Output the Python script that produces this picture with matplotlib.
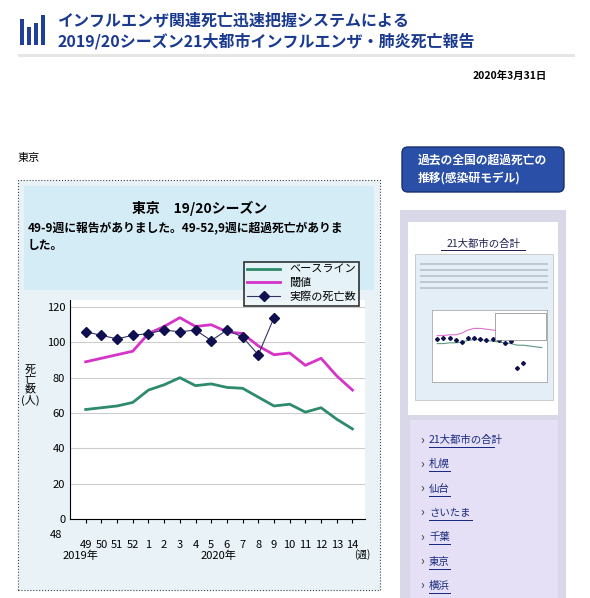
import matplotlib.pyplot as plt
from matplotlib.patches import Rectangle, FancyBboxPatch
import numpy as np

plt.rcParams['font.family'] = ['Noto Sans CJK JP', 'DejaVu Sans']

W, H = 590, 598

# data
week_labels = ['49', '50', '51', '52', '1', '2', '3', '4', '5', '6', '7', '8', '9',
               '10', '11', '12', '13', '14']
baseline = [62, 63, 64, 66, 73, 76, 80, 75.5, 76.5, 74.5, 74, 69, 64, 65, 60.5, 63, 56.5, 51]
threshold = [89, 91, 93, 95, 105, 109, 114, 109, 110, 106, 105, 98, 93, 94, 87, 91, 81, 73]
observed = [106, 104, 102, 104, 105, 107, 106, 107, 101, 107, 103, 93, 114]

# thumbnail (21 cities total), rough relative values
thumb_base = [48, 48, 49, 49, 50, 52, 53, 53, 52, 51, 50, 49, 48, 46, 46, 45, 44, 43]
thumb_thr = [58, 58, 59, 59, 61, 65, 67, 67, 66, 65, 64, 62, 60, 57, 56, 56, 55, 54]
thumb_obs = [54, 55, 55, 53, 50, 55, 55, 54, 52, 54, 52, 49, 51, 18, 24]

sidebar_links = ['21大都市の合計', '札幌', '仙台', 'さいたま', '千葉', '東京', '横浜']

fig = plt.figure(figsize=(W / 100, H / 100), dpi=100)
fig.patch.set_facecolor('white')


def fx(x):
    return x / W


def fy(y):
    return 1 - y / H


def box(x0, y0, x1, y1, z=-5, **kw):
    fig.add_artist(Rectangle((fx(x0), fy(y1)), fx(x1 - x0), (y1 - y0) / H,
                             transform=fig.transFigure, zorder=z, **kw))


# header
for x, h in [(20, 26), (27, 18), (34, 22), (41, 30)]:
    box(x, 45 - h, x + 4, 45, color='#1f3f99', lw=0)
fig.text(fx(58), fy(20), 'インフルエンザ関連死亡迅速把握システムによる', color='#1a3a8f',
         fontsize=11.5, fontweight='bold', va='center')
fig.text(fx(58), fy(41), '2019/20シーズン21大都市インフルエンザ・肺炎死亡報告', color='#1a3a8f',
         fontsize=11.5, fontweight='bold', va='center')
box(18, 54, 575, 57, color='#e6e6e6', lw=0)
fig.text(fx(547), fy(76), '2020年3月31日', fontsize=7.5, fontweight='bold', ha='right', va='center')
fig.text(fx(18), fy(158), '東京', fontsize=8, va='center')

# chart frame
box(18, 180, 380, 590, facecolor='#e9f3f7', edgecolor='#444444', lw=0.8, ls=':')
box(24, 186, 374, 290, facecolor='#d4ecf6', lw=0)
fig.text(fx(200), fy(208), '東京　19/20シーズン', fontsize=10, fontweight='bold', ha='center', va='center')
fig.text(fx(28), fy(228), '49-9週に報告がありました。49-52,9週に超過死亡がありま', fontsize=8.5,
         fontweight='bold', va='center')
fig.text(fx(28), fy(246), 'した。', fontsize=8.5, fontweight='bold', va='center')

ax = fig.add_axes([fx(70), fy(519), fx(365 - 70), (519 - 300) / H])
ax.set_facecolor('white')
x = np.arange(len(week_labels))
ax.plot(x, baseline, color='#2e8b6a', lw=2, label='ベースライン')
ax.plot(x, threshold, color='#d633c8', lw=2, label='閾値')
ax.plot(x[:len(observed)], observed, color='#333366', lw=0.8, marker='D', ms=5,
        mfc='#101050', mec='#101050', label='実際の死亡数')
ax.set_xlim(-1, len(week_labels) - 0.2)
ax.set_ylim(0, 124)
ax.set_yticks(range(0, 121, 20))
ax.set_xticks(x)
ax.set_xticklabels(week_labels, fontsize=8)
ax.tick_params(axis='y', labelsize=8, length=0)
ax.tick_params(axis='x', length=3, pad=12)
ax.grid(axis='y', color='#cccccc', lw=0.8)
ax.set_axisbelow(True)
for s in ['top', 'right']:
    ax.spines[s].set_visible(False)
fig.text(fx(56), fy(535), '48', fontsize=8, ha='center', va='center')
fig.text(fx(80), fy(556), '2019年', fontsize=8, ha='center', va='center')
fig.text(fx(218), fy(556), '2020年', fontsize=8, ha='center', va='center')
fig.text(fx(362), fy(555), '(週)', fontsize=7, ha='center', va='center')
fig.text(fx(30), fy(385), '死\n亡\n数\n(人)', fontsize=8, ha='center', va='center',
         linespacing=1.0)
leg = fig.legend(loc='upper left', bbox_to_anchor=(fx(238), fy(256)), fontsize=8,
                 frameon=True, fancybox=False, edgecolor='black', handlelength=3,
                 borderpad=0.3, labelspacing=0.3)
leg.get_frame().set_linewidth(1.2)
leg.get_frame().set_facecolor('#eaf4f8')

# sidebar
fig.add_artist(FancyBboxPatch((fx(402), fy(192)), fx(162), 45 / H, transform=fig.transFigure,
                              boxstyle='round,pad=0,rounding_size=0.01', facecolor='#2a4fa6',
                              edgecolor='#1a2f70', zorder=-5))
fig.text(fx(418), fy(160), '過去の全国の超過死亡の', color='white', fontsize=8.5, fontweight='bold', va='center')
fig.text(fx(418), fy(178), '推移(感染研モデル)', color='white', fontsize=8.5, fontweight='bold', va='center')
box(400, 210, 566, 598, z=-6, facecolor='#d8d8e8', lw=0)
box(408, 222, 558, 415, facecolor='white', lw=0)
fig.text(fx(483), fy(244), '21大都市の合計', color='#222255', fontsize=7.5, ha='center', va='center')
box(441, 250, 526, 251, color='#222255', lw=0)
box(415, 254, 553, 400, facecolor='#e3eef6', edgecolor='#bbbbbb', lw=0.5)
for i in range(5):
    box(420, 263 + i * 6, 548, 265 + i * 6, color='#c0c8d0', lw=0)
tax = fig.add_axes([fx(432), fy(382), fx(115), 72 / H])
tx = np.arange(len(thumb_base))
tax.plot(tx, thumb_base, color='#5a9a80', lw=0.8)
tax.plot(tx, thumb_thr, color='#e070d0', lw=0.8)
tax.plot(tx[:len(thumb_obs)], thumb_obs, 'D', color='#101050', ms=2)
tax.set_ylim(0, 90)
tax.set_xticks([])
tax.set_yticks([])
for s in tax.spines.values():
    s.set_color('#999999')
    s.set_linewidth(0.5)
box(495, 313, 546, 340, z=5, facecolor='white', edgecolor='#666666', lw=0.4)

box(410, 420, 558, 598, facecolor='#e5e0f5', lw=0)
for i, name in enumerate(sidebar_links):
    y = 440 + i * 24.3
    fig.text(fx(420), fy(y), '›', fontsize=9, va='center', color='#333333')
    fig.text(fx(429), fy(y), name, fontsize=7.5, va='center', color='#1a2a80')
    box(429, y + 7, 429 + 11 * len(name) * (0.75 if name[0].isdigit() else 1), y + 8,
        color='#1a2a80', lw=0)

fig.savefig('out.png', dpi=100)
